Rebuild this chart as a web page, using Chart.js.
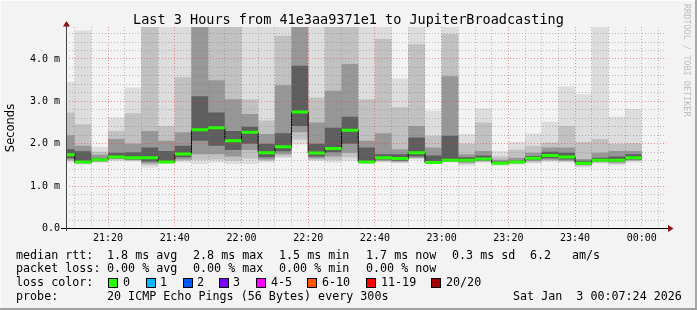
<!DOCTYPE html>
<html>
<head>
<meta charset="utf-8">
<script src="https://cdn.jsdelivr.net/npm/chart.js@4.4.7/dist/chart.umd.min.js"></script>
<style>
  body { margin: 0; background: #ffffff; }
  #frame {
    position: relative;
    width: 697px;
    height: 310px;
    background: #f3f3f3;
    overflow: hidden;
    font-family: 'DejaVu Sans Mono', monospace;
    color: #000;
  }
  #frame canvas { position: absolute; left: 0; top: 0; }
  .txt { position: absolute; white-space: pre; font-size: 11.7px; line-height: 14px; }
  .box { position: absolute; width: 8px; height: 8px; border: 1px solid #000; top: 278px; }
  #title { position: absolute; left: 0; width: 697px; top: 11px; text-align: center; font-size: 13.5px; line-height: 16px; white-space: pre; }
  #ylabel {
    position: absolute; left: 10px; top: 127.5px;
    font-family: 'DejaVu Sans', sans-serif; font-size: 11.5px;
    transform: translate(-50%, -50%) rotate(-90deg); white-space: pre;
  }
  #rrd {
    position: absolute; left: 682px; top: 4px;
    writing-mode: vertical-rl; font-size: 8.5px; color: #bdbdbd; white-space: pre;
  }
  .edge { position: absolute; }
</style>
</head>
<body>
<div id="frame">
  <canvas id="chart" width="697" height="310"></canvas>
  <div id="title">Last 3 Hours from 41e3aa9371e1 to JupiterBroadcasting</div>
  <div id="ylabel">Seconds</div>
  <div id="rrd">RRDTOOL / TOBI OETIKER</div>

  <div class="txt" style="left:16px;top:247.5px">median rtt:</div>
  <div class="txt" style="left:107px;top:247.5px">1.8 ms avg</div>
  <div class="txt" style="left:193px;top:247.5px">2.8 ms max</div>
  <div class="txt" style="left:279px;top:247.5px">1.5 ms min</div>
  <div class="txt" style="left:366px;top:247.5px">1.7 ms now</div>
  <div class="txt" style="left:452px;top:247.5px">0.3 ms sd</div>
  <div class="txt" style="left:530px;top:247.5px">6.2</div>
  <div class="txt" style="left:572px;top:247.5px">am/s</div>

  <div class="txt" style="left:16px;top:261.3px">packet loss:</div>
  <div class="txt" style="left:107px;top:261.3px">0.00 % avg</div>
  <div class="txt" style="left:193px;top:261.3px">0.00 % max</div>
  <div class="txt" style="left:279px;top:261.3px">0.00 % min</div>
  <div class="txt" style="left:366px;top:261.3px">0.00 % now</div>

  <div class="txt" style="left:16px;top:275.2px">loss color:</div>
  <div id="lossLegend"></div>

  <div class="txt" style="left:16px;top:288.8px">probe:</div>
  <div class="txt" style="left:107px;top:288.8px">20 ICMP Echo Pings (56 Bytes) every 300s</div>
  <div class="txt" style="left:513px;top:288.8px">Sat Jan  3 00:07:24 2026</div>

  <div class="edge" style="left:0;top:0;width:697px;height:1px;background:#fcfcfc"></div>
  <div class="edge" style="left:0;top:0;width:1px;height:310px;background:#fcfcfc"></div>
  <div class="edge" style="left:695px;top:0;width:2px;height:310px;background:#a8a8a8"></div>
  <div class="edge" style="left:0;top:308px;width:697px;height:2px;background:#a0a0a0"></div>
</div>

<script>
  // minutes after 21:00, start of each 5 minute slot (first slot is cut by the window)
  const slotMinutes = [7.4, 10, 15, 20, 25, 30, 35, 40, 45, 50, 55, 60, 65, 70, 75, 80, 85, 90,
    95, 100, 105, 110, 115, 120, 125, 130, 135, 140, 145, 150, 155, 160, 165, 170, 175]
  const slotEnd = 180
  const windowStart = 7.4
  const windowEnd = 187.4

  const tickMinutes = [20, 40, 60, 80, 100, 120, 140, 160, 180]
  const tickLabels = ['21:20', '21:40', '22:00', '22:20', '22:40', '23:00', '23:20', '23:40', '00:00']

  // smoke, in ms: outer band (min..max) down to the inner band around the median
  const pingMax = [3.46, 4.67, 1.93, 2.62, 3.33, 4.8, 4.8, 4.8, 4.8, 4.8, 4.8, 4.8, 4.8, 4.8, 4.8, 4.8, 4.8, 4.8,
    4.8, 4.8, 3.54, 4.8, 2.78, 4.8, 2.23, 2.83, 1.83, 2.04, 2.24, 2.52, 3.35, 3.17, 4.8, 2.64, 2.82]
  const upper2 = [2.74, 2.46, 1.81, 2.30, 2.72, 4.8, 2.42, 3.57, 4.8, 4.8, 4.8, 3.05, 2.55, 4.55, 4.8, 3.09, 4.8, 4.8,
    3.05, 4.47, 2.86, 4.35, 2.19, 4.59, 2.00, 2.50, 1.70, 1.86, 1.95, 2.03, 2.42, 2.04, 2.11, 2.00, 2.01]
  const upper3 = [2.20, 1.95, 1.74, 2.11, 2.00, 2.30, 2.07, 2.27, 4.8, 3.50, 3.05, 2.70, 2.23, 3.38, 4.8, 2.50, 3.25, 3.88,
    2.07, 2.25, 1.87, 2.42, 1.91, 3.59, 1.75, 1.83, 1.62, 1.67, 1.79, 1.91, 1.91, 1.64, 1.79, 1.83, 1.83]
  const upper4 = [1.87, 1.82, 1.66, 1.79, 1.80, 1.91, 1.83, 1.95, 3.12, 2.74, 2.30, 2.40, 2.00, 2.25, 3.84, 2.00, 2.38, 2.64,
    1.91, 1.75, 1.75, 2.15, 1.72, 2.19, 1.68, 1.72, 1.58, 1.60, 1.71, 1.81, 1.79, 1.60, 1.67, 1.70, 1.75]
  const medianRtt = [1.74, 1.57, 1.62, 1.69, 1.67, 1.67, 1.57, 1.76, 2.33, 2.38, 2.07, 2.27, 1.79, 1.93, 2.75, 1.78, 1.89, 2.32,
    1.57, 1.67, 1.65, 1.79, 1.56, 1.61, 1.61, 1.64, 1.54, 1.57, 1.66, 1.72, 1.69, 1.54, 1.61, 1.61, 1.67]
  const lower4 = [1.66, 1.55, 1.60, 1.66, 1.63, 1.58, 1.56, 1.68, 2.07, 1.95, 1.85, 2.00, 1.68, 1.82, 2.42, 1.70, 1.80, 2.00,
    1.56, 1.63, 1.60, 1.70, 1.55, 1.59, 1.58, 1.61, 1.53, 1.55, 1.62, 1.66, 1.63, 1.52, 1.59, 1.58, 1.63]
  const lower3 = [1.62, 1.54, 1.58, 1.64, 1.62, 1.54, 1.55, 1.63, 1.75, 1.75, 1.70, 1.85, 1.63, 1.75, 2.27, 1.66, 1.70, 1.79,
    1.55, 1.60, 1.58, 1.67, 1.54, 1.58, 1.55, 1.59, 1.52, 1.54, 1.59, 1.62, 1.60, 1.50, 1.57, 1.55, 1.61]
  const lower2 = [1.59, 1.53, 1.57, 1.62, 1.60, 1.50, 1.54, 1.60, 1.62, 1.63, 1.60, 1.65, 1.60, 1.70, 2.10, 1.62, 1.62, 1.68,
    1.54, 1.58, 1.56, 1.65, 1.53, 1.57, 1.52, 1.57, 1.51, 1.53, 1.56, 1.60, 1.58, 1.47, 1.55, 1.52, 1.59]
  const pingMin = [1.56, 1.51, 1.55, 1.59, 1.58, 1.44, 1.53, 1.56, 1.52, 1.56, 1.52, 1.52, 1.56, 1.66, 1.98, 1.59, 1.56, 1.60,
    1.52, 1.56, 1.54, 1.63, 1.52, 1.56, 1.48, 1.55, 1.48, 1.51, 1.54, 1.57, 1.56, 1.44, 1.53, 1.49, 1.56]

  const lossLabels = ['0', '1', '2', '3', '4-5', '6-10', '11-19', '20/20']
  const lossColors = ['#26ff00', '#00b8ff', '#0059ff', '#7e00ff', '#ff00ff', '#ff5500', '#ff0000', '#a10000']
  const lossBoxX = [108, 146, 183, 219, 256, 307, 366, 431]
  const lossTextX = [123, 160, 197, 233, 271, 322, 381, 446]

  // loss colour legend
  const lossLegend = document.getElementById('lossLegend')
  lossLabels.forEach((label, i) => {
    const box = document.createElement('div')
    box.className = 'box'
    box.style.left = lossBoxX[i] + 'px'
    box.style.background = lossColors[i]
    lossLegend.appendChild(box)
    const t = document.createElement('div')
    t.className = 'txt'
    t.style.left = lossTextX[i] + 'px'
    t.style.top = '275.2px'
    t.textContent = label
    lossLegend.appendChild(t)
  })

  // step series: value i holds from slot start i to the next slot start
  function steps(values) {
    const pts = slotMinutes.map((t, i) => ({ x: t, y: values[i] }))
    pts.push({ x: slotEnd, y: values[values.length - 1] })
    return pts
  }

  // one short green segment per slot, broken between slots
  function medianSegments(values) {
    const pts = []
    for (let i = 0; i < values.length; i++) {
      const end = i + 1 < slotMinutes.length ? slotMinutes[i + 1] : slotEnd
      pts.push({ x: slotMinutes[i], y: values[i] })
      pts.push({ x: end, y: values[i] })
      pts.push({ x: end, y: null })
    }
    return pts
  }

  const bands = [
    { lo: pingMin, hi: pingMax, color: '#dddddd' },
    { lo: lower2, hi: upper2, color: '#c1c1c1' },
    { lo: lower3, hi: upper3, color: '#979797' },
    { lo: lower4, hi: upper4, color: '#5e5e5e' }
  ]

  const datasets = []
  bands.forEach((b, k) => {
    const loIndex = datasets.length
    datasets.push({
      data: steps(b.lo), stepped: 'before', borderWidth: 0, pointRadius: 0, fill: false, order: 20
    })
    datasets.push({
      data: steps(b.hi), stepped: 'before', borderWidth: 0, pointRadius: 0,
      fill: loIndex, backgroundColor: b.color, order: 10 - k * 2
    })
  })
  datasets.push({
    data: steps(medianRtt), stepped: 'before', borderColor: '#000', borderWidth: 1, pointRadius: 0, fill: false, order: 1
  })
  datasets.push({
    data: medianSegments(medianRtt), borderColor: lossColors[0], borderWidth: 3, borderCapStyle: 'butt',
    pointRadius: 0, fill: false, spanGaps: false, order: 0
  })

  const axisArrows = {
    id: 'axisArrows',
    afterDraw(chart) {
      const { ctx, chartArea: a } = chart
      const y0 = chart.scales.y.getPixelForValue(0)
      ctx.save()
      ctx.strokeStyle = '#000'
      ctx.lineWidth = 1
      ctx.beginPath()
      ctx.moveTo(a.left - 5, Math.floor(y0) + 0.5)
      ctx.lineTo(a.right + 2, Math.floor(y0) + 0.5)
      ctx.stroke()
      ctx.strokeStyle = '#444'
      ctx.beginPath()
      ctx.moveTo(a.left + 0.5, Math.floor(y0) + 3)
      ctx.lineTo(a.left + 0.5, a.top - 1)
      ctx.stroke()
      ctx.fillStyle = '#8b1010'
      ctx.beginPath()
      ctx.moveTo(a.left + 0.5 - 3.5, a.top - 0.5)
      ctx.lineTo(a.left + 0.5 + 3.5, a.top - 0.5)
      ctx.lineTo(a.left + 0.5, a.top - 6)
      ctx.closePath()
      ctx.fill()
      const yy = Math.floor(y0) + 0.5
      ctx.beginPath()
      ctx.moveTo(a.right + 1.5, yy - 3.5)
      ctx.lineTo(a.right + 1.5, yy + 3.5)
      ctx.lineTo(a.right + 7, yy)
      ctx.closePath()
      ctx.fill()
      ctx.restore()
    }
  }

  const xTicks = []
  for (const t of slotMinutes) if (t % 5 === 0) xTicks.push(t)
  xTicks.push(180, 185)

  const yTicks = [0, 0.2, 0.4, 0.6, 0.8, 1, 1.2, 1.4, 1.6, 1.8, 2, 2.2, 2.4, 2.6, 2.8, 3, 3.2, 3.4, 3.6, 3.8, 4, 4.2, 4.4, 4.6]

  const config = {
    type: 'line',
    data: { datasets: datasets },
    options: {
      responsive: false,
      animation: false,
      events: [],
      layout: { padding: { left: 0, top: 27, right: 30.5, bottom: 61.5 } },
      plugins: {
        legend: { display: false },
        tooltip: { enabled: false },
        filler: { drawTime: 'beforeDatasetDraw', propagate: false }
      },
      scales: {
        x: {
          type: 'linear',
          min: windowStart,
          max: windowEnd,
          afterFit: (s) => { s.height = 20 },
          afterBuildTicks: (s) => { s.ticks = xTicks.map(v => ({ value: v })) },
          border: { display: false, dash: [1, 2] },
          grid: {
            z: 1,
            drawTicks: false,
            lineWidth: 1,
            color: (c) => (c.tick && c.tick.value % 20 === 0) ? 'rgba(235,60,60,0.55)' : 'rgba(120,120,120,0.45)'
          },
          ticks: {
            autoSkip: false,
            maxRotation: 0,
            padding: 4,
            color: '#000',
            font: { family: 'DejaVu Sans Mono', size: 10 },
            callback: (v) => {
              const i = tickMinutes.indexOf(v)
              return i >= 0 ? tickLabels[i] : ''
            }
          }
        },
        y: {
          min: 0,
          max: 4.755,
          afterFit: (s) => { s.width = 66 },
          afterBuildTicks: (s) => { s.ticks = yTicks.map(v => ({ value: v })) },
          border: { display: false, dash: [1, 2] },
          grid: {
            z: 1,
            drawTicks: false,
            lineWidth: 1,
            color: (c) => (c.tick && Math.abs(c.tick.value - Math.round(c.tick.value)) < 1e-6) ? 'rgba(235,60,60,0.55)' : 'rgba(120,120,120,0.45)'
          },
          ticks: {
            autoSkip: false,
            padding: 6,
            color: '#000',
            font: { family: 'DejaVu Sans Mono', size: 10 },
            callback: (v) => {
              if (Math.abs(v - Math.round(v)) > 1e-6) return ''
              return v === 0 ? '0.0' : v.toFixed(1) + ' m'
            }
          }
        }
      }
    },
    plugins: [axisArrows]
  }

  const myChart = new Chart(document.getElementById('chart'), config)
</script>
</body>
</html>
